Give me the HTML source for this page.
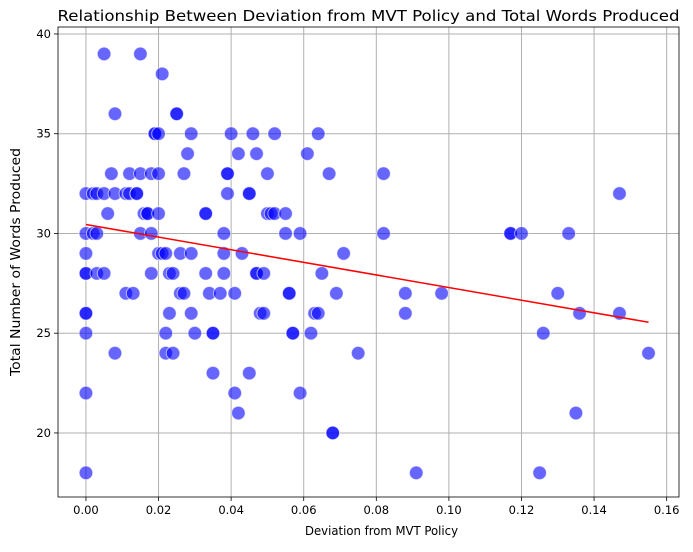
<!DOCTYPE html>
<html><head><meta charset="utf-8"><style>
body{margin:0;background:#fff;}
svg text{font-family:"DejaVu Sans","Liberation Sans",sans-serif;fill:#000;}
</style></head><body>
<svg id="chart" width="693" height="547"></svg>
<script>
const xValues=[0,0,0,0,0,0,0,0,0,0,0.002,0.003,0.002,0.003,0.003,0.005,0.005,0.005,0.006,0.007,0.008,0.008,0.008,0.011,0.011,0.012,0.012,0.013,0.014,0.014,0.015,0.015,0.015,0.016,0.017,0.017,0.018,0.018,0.018,0.019,0.019,0.020,0.020,0.020,0.020,0.021,0.021,0.022,0.022,0.022,0.023,0.023,0.024,0.024,0.025,0.025,0.026,0.026,0.027,0.027,0.028,0.029,0.029,0.029,0.030,0.033,0.033,0.033,0.034,0.035,0.035,0.035,0.037,0.038,0.038,0.038,0.039,0.039,0.039,0.040,0.041,0.041,0.042,0.042,0.043,0.045,0.045,0.045,0.046,0.047,0.047,0.047,0.048,0.049,0.049,0.050,0.050,0.051,0.052,0.052,0.055,0.055,0.056,0.056,0.057,0.057,0.059,0.059,0.061,0.062,0.063,0.064,0.064,0.065,0.067,0.068,0.068,0.069,0.071,0.075,0.082,0.082,0.088,0.088,0.091,0.098,0.117,0.117,0.120,0.125,0.126,0.130,0.133,0.135,0.136,0.147,0.147,0.155];
const yValues=[32,30,29,28,28,26,26,25,22,18,32,32,30,30,28,39,32,28,31,33,36,32,24,27,32,33,32,27,32,32,39,33,30,31,31,31,28,33,30,35,35,33,31,29,35,29,38,29,25,24,26,28,28,24,36,36,27,29,33,27,34,29,26,35,25,28,31,31,27,25,25,23,27,29,28,30,32,33,33,35,22,27,34,21,29,23,32,32,35,34,28,28,26,28,26,33,31,31,35,31,31,30,27,27,25,25,22,30,34,25,26,26,35,28,33,20,20,27,29,24,33,30,27,26,18,27,30,30,30,18,25,27,30,21,26,32,26,24];
const fitLine=[[0,30.45],[0.155,25.55]];
const xTicks=[0,0.02,0.04,0.06,0.08,0.10,0.12,0.14,0.16];
const xTickLabels=["0.00","0.02","0.04","0.06","0.08","0.10","0.12","0.14","0.16"];
const yTicks=[20,25,30,35,40];
const yTickLabels=["20","25","30","35","40"];

const L=58,R=679,T=27,B=497;
const xMin=-0.0077,xMax=0.1634,yMin=16.79,yMax=40.35;
const sx=v=>L+(v-xMin)/(xMax-xMin)*(R-L);
const sy=v=>B-(v-yMin)/(yMax-yMin)*(B-T);
const svg=document.getElementById('chart');
const NS='http://www.w3.org/2000/svg';
function mk(tag,attrs,parent){const e=document.createElementNS(NS,tag);for(const k in attrs)e.setAttribute(k,attrs[k]);(parent||svg).appendChild(e);return e;}

const grid=mk('g',{});


xTicks.forEach((t,i)=>{
  const x=sx(t);
  const gl=mk('line',{x1:x,x2:x,y1:T,y2:B,stroke:'#b0b0b0','stroke-width':1},grid);
  
  
  mk('line',{x1:x,x2:x,y1:B,y2:B+4,stroke:'#000','stroke-width':0.8});
  const tx=mk('text',{x:x,y:B+17,'text-anchor':'middle','font-size':11.5});
  tx.textContent=xTickLabels[i];
  
  
});
yTicks.forEach((t,i)=>{
  const y=sy(t);
  const gl=mk('line',{x1:L,x2:R,y1:y,y2:y,stroke:'#b0b0b0','stroke-width':1},grid);
  
  
  mk('line',{x1:L-4,x2:L,y1:y,y2:y,stroke:'#000','stroke-width':0.8});
  const tx=mk('text',{x:L-7,y:y+4,'text-anchor':'end','font-size':11.5});
  tx.textContent=yTickLabels[i];
  
  
});

const pts=mk('g',{});


xValues.forEach((v,i)=>{
  const c=mk('circle',{cx:sx(v),cy:sy(yValues[i]),r:6.8,fill:'rgba(0,0,255,0.6)',stroke:'rgba(255,255,255,0.6)','stroke-width':1},pts);
  
  
});

const rl=mk('line',{x1:sx(fitLine[0][0]),y1:sy(fitLine[0][1]),x2:sx(fitLine[1][0]),y2:sy(fitLine[1][1]),stroke:'red','stroke-width':1.5});



const frame=mk('rect',{x:L,y:T,width:R-L,height:B-T,fill:'none',stroke:'#000','stroke-width':0.8});



const title=mk('text',{x:(L+R)/2,y:T-6,'text-anchor':'middle','font-size':15,textLength:622,lengthAdjust:'spacingAndGlyphs'});
title.textContent='Relationship Between Deviation from MVT Policy and Total Words Produced';


const xl=mk('text',{x:(L+R)/2+13,y:535,'text-anchor':'middle','font-size':12.5,textLength:153,lengthAdjust:'spacingAndGlyphs'});
xl.textContent='Deviation from MVT Policy';


const yl=mk('text',{x:0,y:0,'text-anchor':'middle','font-size':13,textLength:228,lengthAdjust:'spacingAndGlyphs',transform:`translate(20,${(T+B)/2}) rotate(-90)`});
yl.textContent='Total Number of Words Produced';


</script>
</body></html>
